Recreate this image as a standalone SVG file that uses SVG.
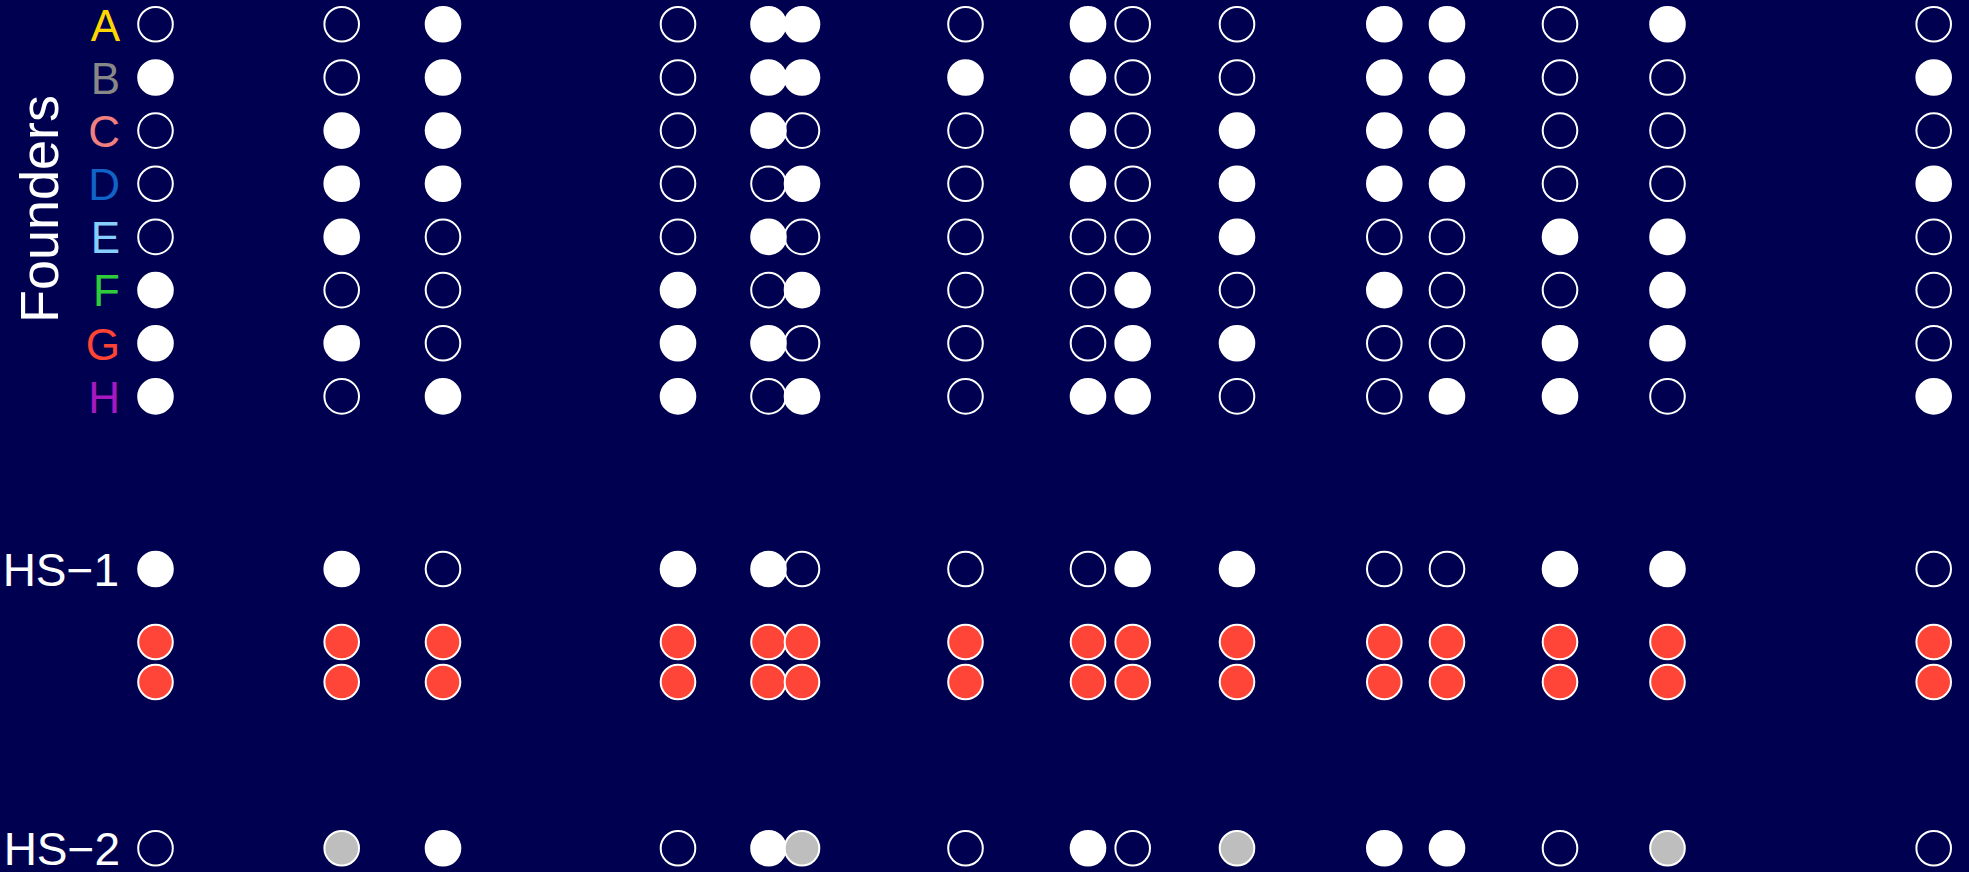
<svg xmlns="http://www.w3.org/2000/svg" width="1969" height="872" viewBox="0 0 1969 872">
<style>
circle{stroke:#ffffff;stroke-width:2}
.o{fill:none}
.f{fill:#ffffff}
.r{fill:#ff4538}
.g{fill:#bebebe}
text{font-family:"Liberation Sans",Arial,sans-serif;font-size:44px}
.lab{text-anchor:end}
</style>
<rect x="0" y="0" width="1969" height="872" fill="#000050"/>
<g id="labels">
<text x="57.5" y="209" transform="rotate(-90 57.5 209)" text-anchor="middle" fill="#ffffff" style="font-size:54px">Founders</text>
<text class="lab" x="120" y="40.6" fill="#ffd700">A</text>
<text class="lab" x="120" y="93.8" fill="#888888">B</text>
<text class="lab" x="120" y="146.9" fill="#f08080">C</text>
<text class="lab" x="120" y="200.1" fill="#1064c8">D</text>
<text class="lab" x="120" y="253.2" fill="#87cefa">E</text>
<text class="lab" x="120" y="306.4" fill="#2ecc3a">F</text>
<text class="lab" x="120" y="359.5" fill="#ff4433">G</text>
<text class="lab" x="120" y="412.7" fill="#a818c0">H</text>
<text class="lab" x="119" y="585.7" fill="#ffffff" style="font-size:46px">HS−1</text>
<text class="lab" x="120" y="864.6" fill="#ffffff" style="font-size:46px">HS−2</text>
</g>
<g id="col1" transform="translate(155.5 0)">
<circle class="o" cx="0" cy="24.3" r="17.3"/><circle class="f" cx="0" cy="77.5" r="17.3"/><circle class="o" cx="0" cy="130.6" r="17.3"/><circle class="o" cx="0" cy="183.8" r="17.3"/><circle class="o" cx="0" cy="236.9" r="17.3"/><circle class="f" cx="0" cy="290.1" r="17.3"/><circle class="f" cx="0" cy="343.2" r="17.3"/><circle class="f" cx="0" cy="396.4" r="17.3"/>
<circle class="f" cx="0" cy="569" r="17.3"/><circle class="r" cx="0" cy="642" r="17.3"/><circle class="r" cx="0" cy="682" r="17.3"/><circle class="o" cx="0" cy="848.3" r="17.3"/>
</g>
<g id="col2" transform="translate(341.7 0)">
<circle class="o" cx="0" cy="24.3" r="17.3"/><circle class="o" cx="0" cy="77.5" r="17.3"/><circle class="f" cx="0" cy="130.6" r="17.3"/><circle class="f" cx="0" cy="183.8" r="17.3"/><circle class="f" cx="0" cy="236.9" r="17.3"/><circle class="o" cx="0" cy="290.1" r="17.3"/><circle class="f" cx="0" cy="343.2" r="17.3"/><circle class="o" cx="0" cy="396.4" r="17.3"/>
<circle class="f" cx="0" cy="569" r="17.3"/><circle class="r" cx="0" cy="642" r="17.3"/><circle class="r" cx="0" cy="682" r="17.3"/><circle class="g" cx="0" cy="848.3" r="17.3"/>
</g>
<g id="col3" transform="translate(443 0)">
<circle class="f" cx="0" cy="24.3" r="17.3"/><circle class="f" cx="0" cy="77.5" r="17.3"/><circle class="f" cx="0" cy="130.6" r="17.3"/><circle class="f" cx="0" cy="183.8" r="17.3"/><circle class="o" cx="0" cy="236.9" r="17.3"/><circle class="o" cx="0" cy="290.1" r="17.3"/><circle class="o" cx="0" cy="343.2" r="17.3"/><circle class="f" cx="0" cy="396.4" r="17.3"/>
<circle class="o" cx="0" cy="569" r="17.3"/><circle class="r" cx="0" cy="642" r="17.3"/><circle class="r" cx="0" cy="682" r="17.3"/><circle class="f" cx="0" cy="848.3" r="17.3"/>
</g>
<g id="col4" transform="translate(678 0)">
<circle class="o" cx="0" cy="24.3" r="17.3"/><circle class="o" cx="0" cy="77.5" r="17.3"/><circle class="o" cx="0" cy="130.6" r="17.3"/><circle class="o" cx="0" cy="183.8" r="17.3"/><circle class="o" cx="0" cy="236.9" r="17.3"/><circle class="f" cx="0" cy="290.1" r="17.3"/><circle class="f" cx="0" cy="343.2" r="17.3"/><circle class="f" cx="0" cy="396.4" r="17.3"/>
<circle class="f" cx="0" cy="569" r="17.3"/><circle class="r" cx="0" cy="642" r="17.3"/><circle class="r" cx="0" cy="682" r="17.3"/><circle class="o" cx="0" cy="848.3" r="17.3"/>
</g>
<g id="col5" transform="translate(768.5 0)">
<circle class="f" cx="0" cy="24.3" r="17.3"/><circle class="f" cx="0" cy="77.5" r="17.3"/><circle class="f" cx="0" cy="130.6" r="17.3"/><circle class="o" cx="0" cy="183.8" r="17.3"/><circle class="f" cx="0" cy="236.9" r="17.3"/><circle class="o" cx="0" cy="290.1" r="17.3"/><circle class="f" cx="0" cy="343.2" r="17.3"/><circle class="o" cx="0" cy="396.4" r="17.3"/>
<circle class="f" cx="0" cy="569" r="17.3"/><circle class="r" cx="0" cy="642" r="17.3"/><circle class="r" cx="0" cy="682" r="17.3"/><circle class="f" cx="0" cy="848.3" r="17.3"/>
</g>
<g id="col6" transform="translate(802 0)">
<circle class="f" cx="0" cy="24.3" r="17.3"/><circle class="f" cx="0" cy="77.5" r="17.3"/><circle class="o" cx="0" cy="130.6" r="17.3"/><circle class="f" cx="0" cy="183.8" r="17.3"/><circle class="o" cx="0" cy="236.9" r="17.3"/><circle class="f" cx="0" cy="290.1" r="17.3"/><circle class="o" cx="0" cy="343.2" r="17.3"/><circle class="f" cx="0" cy="396.4" r="17.3"/>
<circle class="o" cx="0" cy="569" r="17.3"/><circle class="r" cx="0" cy="642" r="17.3"/><circle class="r" cx="0" cy="682" r="17.3"/><circle class="g" cx="0" cy="848.3" r="17.3"/>
</g>
<g id="col7" transform="translate(965.5 0)">
<circle class="o" cx="0" cy="24.3" r="17.3"/><circle class="f" cx="0" cy="77.5" r="17.3"/><circle class="o" cx="0" cy="130.6" r="17.3"/><circle class="o" cx="0" cy="183.8" r="17.3"/><circle class="o" cx="0" cy="236.9" r="17.3"/><circle class="o" cx="0" cy="290.1" r="17.3"/><circle class="o" cx="0" cy="343.2" r="17.3"/><circle class="o" cx="0" cy="396.4" r="17.3"/>
<circle class="o" cx="0" cy="569" r="17.3"/><circle class="r" cx="0" cy="642" r="17.3"/><circle class="r" cx="0" cy="682" r="17.3"/><circle class="o" cx="0" cy="848.3" r="17.3"/>
</g>
<g id="col8" transform="translate(1088 0)">
<circle class="f" cx="0" cy="24.3" r="17.3"/><circle class="f" cx="0" cy="77.5" r="17.3"/><circle class="f" cx="0" cy="130.6" r="17.3"/><circle class="f" cx="0" cy="183.8" r="17.3"/><circle class="o" cx="0" cy="236.9" r="17.3"/><circle class="o" cx="0" cy="290.1" r="17.3"/><circle class="o" cx="0" cy="343.2" r="17.3"/><circle class="f" cx="0" cy="396.4" r="17.3"/>
<circle class="o" cx="0" cy="569" r="17.3"/><circle class="r" cx="0" cy="642" r="17.3"/><circle class="r" cx="0" cy="682" r="17.3"/><circle class="f" cx="0" cy="848.3" r="17.3"/>
</g>
<g id="col9" transform="translate(1132.7 0)">
<circle class="o" cx="0" cy="24.3" r="17.3"/><circle class="o" cx="0" cy="77.5" r="17.3"/><circle class="o" cx="0" cy="130.6" r="17.3"/><circle class="o" cx="0" cy="183.8" r="17.3"/><circle class="o" cx="0" cy="236.9" r="17.3"/><circle class="f" cx="0" cy="290.1" r="17.3"/><circle class="f" cx="0" cy="343.2" r="17.3"/><circle class="f" cx="0" cy="396.4" r="17.3"/>
<circle class="f" cx="0" cy="569" r="17.3"/><circle class="r" cx="0" cy="642" r="17.3"/><circle class="r" cx="0" cy="682" r="17.3"/><circle class="o" cx="0" cy="848.3" r="17.3"/>
</g>
<g id="col10" transform="translate(1237 0)">
<circle class="o" cx="0" cy="24.3" r="17.3"/><circle class="o" cx="0" cy="77.5" r="17.3"/><circle class="f" cx="0" cy="130.6" r="17.3"/><circle class="f" cx="0" cy="183.8" r="17.3"/><circle class="f" cx="0" cy="236.9" r="17.3"/><circle class="o" cx="0" cy="290.1" r="17.3"/><circle class="f" cx="0" cy="343.2" r="17.3"/><circle class="o" cx="0" cy="396.4" r="17.3"/>
<circle class="f" cx="0" cy="569" r="17.3"/><circle class="r" cx="0" cy="642" r="17.3"/><circle class="r" cx="0" cy="682" r="17.3"/><circle class="g" cx="0" cy="848.3" r="17.3"/>
</g>
<g id="col11" transform="translate(1384.3 0)">
<circle class="f" cx="0" cy="24.3" r="17.3"/><circle class="f" cx="0" cy="77.5" r="17.3"/><circle class="f" cx="0" cy="130.6" r="17.3"/><circle class="f" cx="0" cy="183.8" r="17.3"/><circle class="o" cx="0" cy="236.9" r="17.3"/><circle class="f" cx="0" cy="290.1" r="17.3"/><circle class="o" cx="0" cy="343.2" r="17.3"/><circle class="o" cx="0" cy="396.4" r="17.3"/>
<circle class="o" cx="0" cy="569" r="17.3"/><circle class="r" cx="0" cy="642" r="17.3"/><circle class="r" cx="0" cy="682" r="17.3"/><circle class="f" cx="0" cy="848.3" r="17.3"/>
</g>
<g id="col12" transform="translate(1447 0)">
<circle class="f" cx="0" cy="24.3" r="17.3"/><circle class="f" cx="0" cy="77.5" r="17.3"/><circle class="f" cx="0" cy="130.6" r="17.3"/><circle class="f" cx="0" cy="183.8" r="17.3"/><circle class="o" cx="0" cy="236.9" r="17.3"/><circle class="o" cx="0" cy="290.1" r="17.3"/><circle class="o" cx="0" cy="343.2" r="17.3"/><circle class="f" cx="0" cy="396.4" r="17.3"/>
<circle class="o" cx="0" cy="569" r="17.3"/><circle class="r" cx="0" cy="642" r="17.3"/><circle class="r" cx="0" cy="682" r="17.3"/><circle class="f" cx="0" cy="848.3" r="17.3"/>
</g>
<g id="col13" transform="translate(1560 0)">
<circle class="o" cx="0" cy="24.3" r="17.3"/><circle class="o" cx="0" cy="77.5" r="17.3"/><circle class="o" cx="0" cy="130.6" r="17.3"/><circle class="o" cx="0" cy="183.8" r="17.3"/><circle class="f" cx="0" cy="236.9" r="17.3"/><circle class="o" cx="0" cy="290.1" r="17.3"/><circle class="f" cx="0" cy="343.2" r="17.3"/><circle class="f" cx="0" cy="396.4" r="17.3"/>
<circle class="f" cx="0" cy="569" r="17.3"/><circle class="r" cx="0" cy="642" r="17.3"/><circle class="r" cx="0" cy="682" r="17.3"/><circle class="o" cx="0" cy="848.3" r="17.3"/>
</g>
<g id="col14" transform="translate(1667.5 0)">
<circle class="f" cx="0" cy="24.3" r="17.3"/><circle class="o" cx="0" cy="77.5" r="17.3"/><circle class="o" cx="0" cy="130.6" r="17.3"/><circle class="o" cx="0" cy="183.8" r="17.3"/><circle class="f" cx="0" cy="236.9" r="17.3"/><circle class="f" cx="0" cy="290.1" r="17.3"/><circle class="f" cx="0" cy="343.2" r="17.3"/><circle class="o" cx="0" cy="396.4" r="17.3"/>
<circle class="f" cx="0" cy="569" r="17.3"/><circle class="r" cx="0" cy="642" r="17.3"/><circle class="r" cx="0" cy="682" r="17.3"/><circle class="g" cx="0" cy="848.3" r="17.3"/>
</g>
<g id="col15" transform="translate(1933.7 0)">
<circle class="o" cx="0" cy="24.3" r="17.3"/><circle class="f" cx="0" cy="77.5" r="17.3"/><circle class="o" cx="0" cy="130.6" r="17.3"/><circle class="f" cx="0" cy="183.8" r="17.3"/><circle class="o" cx="0" cy="236.9" r="17.3"/><circle class="o" cx="0" cy="290.1" r="17.3"/><circle class="o" cx="0" cy="343.2" r="17.3"/><circle class="f" cx="0" cy="396.4" r="17.3"/>
<circle class="o" cx="0" cy="569" r="17.3"/><circle class="r" cx="0" cy="642" r="17.3"/><circle class="r" cx="0" cy="682" r="17.3"/><circle class="o" cx="0" cy="848.3" r="17.3"/>
</g>
<g id="connectors"/>
</svg>
